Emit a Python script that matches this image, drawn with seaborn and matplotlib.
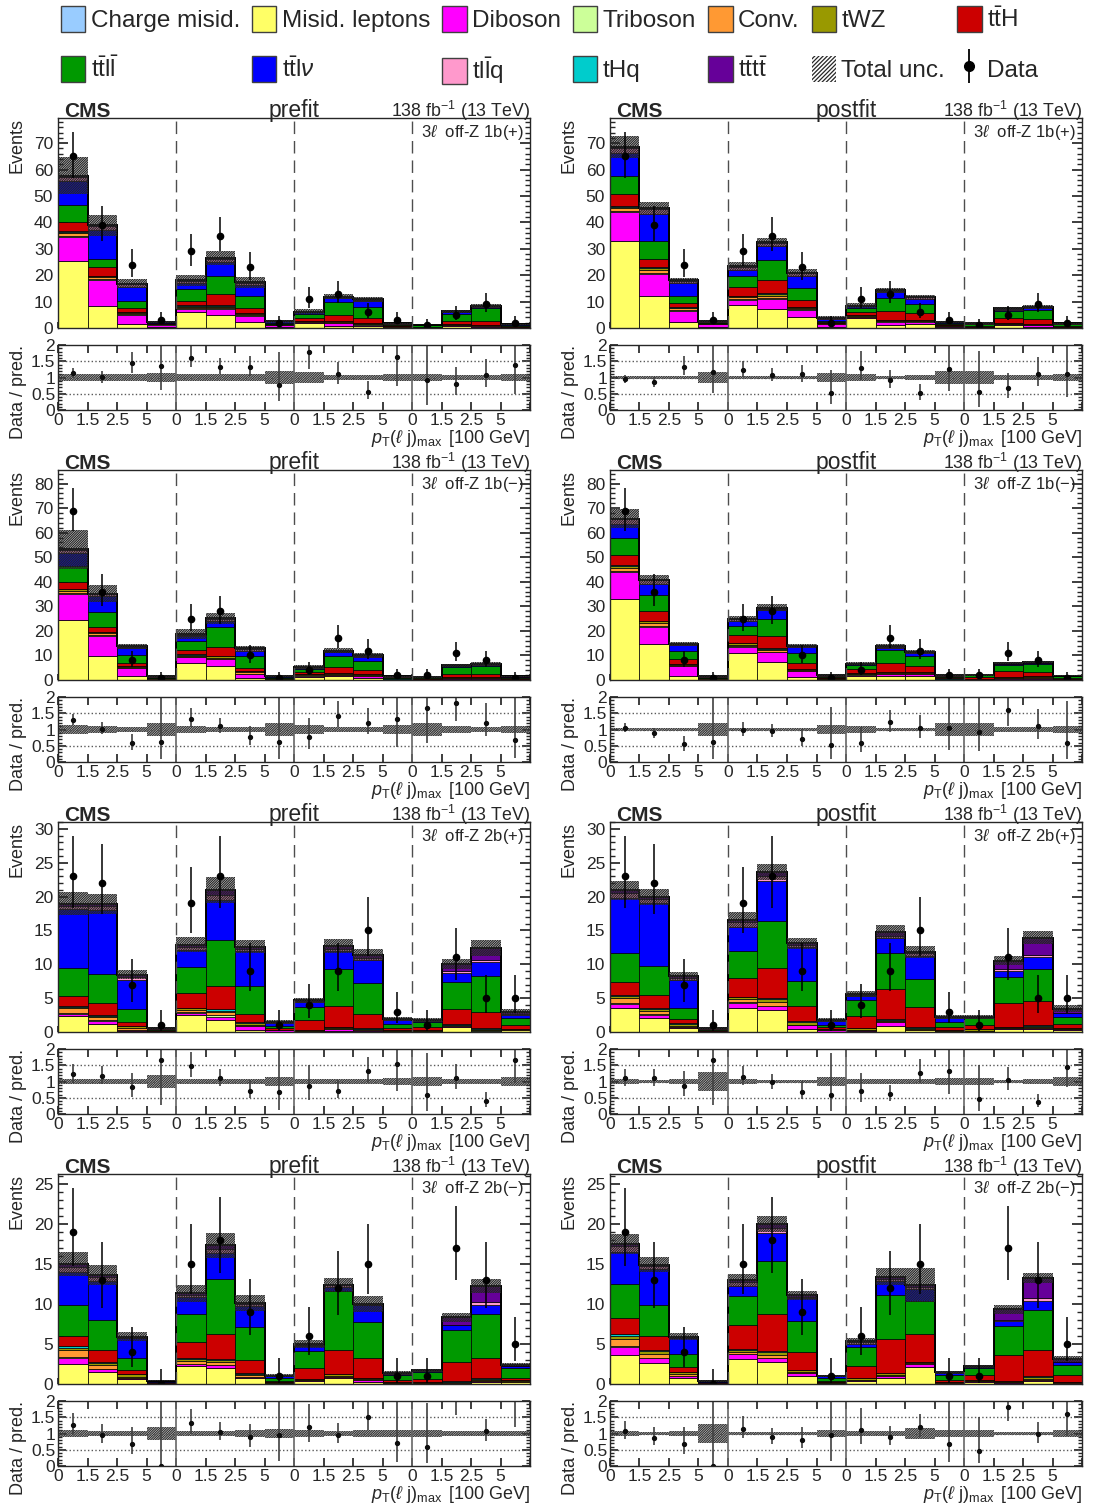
import numpy as np
import pandas as pd
import matplotlib
matplotlib.use("Agg")
import matplotlib.pyplot as plt
import seaborn as sns
from matplotlib.patches import Patch
from matplotlib.lines import Line2D
from matplotlib.legend_handler import HandlerTuple
from matplotlib.ticker import MultipleLocator, AutoMinorLocator

# ---------------- data ----------------
group_tick_labels = ["0", "1.5", "2.5", "5"]
categories = ["1b(+)", "1b(\u2212)", "2b(+)", "2b(\u2212)"]

data_1bp = [65, 39, 24, 3, 29, 35, 23, 2, 11, 13, 6, 3, 1, 5, 9, 2]
data_1bm = [69, 36, 8, 1, 25, 28, 10, 1, 4, 17, 12, 2, 2, 11, 8, 1]
data_2bp = [23, 22, 7, 1, 19, 23, 9, 1, 4, 9, 15, 3, 1, 11, 5, 5]
data_2bm = [19, 13, 4, 0, 15, 18, 9, 1, 6, 12, 15, 1, 1, 17, 13, 5]

zeros16 = [0, 0, 0, 0, 0, 0, 0, 0, 0, 0, 0, 0, 0, 0, 0, 0]

# 1b(+) prefit
pre_1bp_misid = [25.5, 8.3, 1.5, 0.3, 6.0, 5.1, 2.4, 0.3, 1.8, 0.9, 0.9, 0.2, 0.1, 0.9, 0.3, 0.1]
pre_1bp_dib = [9.0, 9.8, 3.5, 1.0, 1.3, 2.2, 2.3, 0.8, 0.3, 0.9, 0.4, 0.3, 0.1, 0.2, 0.5, 0.2]
pre_1bp_tri = [0.4, 0.3, 0.2, 0.05, 0.2, 0.2, 0.2, 0.1, 0.1, 0.1, 0.1, 0.05, 0.0, 0.05, 0.05, 0.0]
pre_1bp_conv = [1.0, 0.8, 0.5, 0.1, 0.6, 0.6, 0.4, 0.1, 0.3, 0.3, 0.2, 0.1, 0.05, 0.1, 0.1, 0.05]
pre_1bp_twz = [0.5, 0.4, 0.3, 0.1, 0.4, 0.4, 0.2, 0.1, 0.2, 0.3, 0.2, 0.1, 0.1, 0.2, 0.3, 0.1]
pre_1bp_thq = [0.3, 0.2, 0.2, 0.0, 0.2, 0.3, 0.2, 0.0, 0.1, 0.1, 0.1, 0.05, 0.0, 0.05, 0.05, 0.0]
pre_1bp_tth = [3.3, 3.2, 1.2, 0.2, 1.7, 4.0, 2.0, 0.3, 1.0, 2.3, 1.8, 0.3, 0.2, 1.0, 1.3, 0.3]
pre_1bp_ttll = [6.4, 3.1, 2.7, 0.2, 4.3, 7.0, 4.4, 0.3, 1.5, 4.8, 4.2, 0.3, 0.4, 2.9, 5.1, 0.5]
pre_1bp_ttlv = [9.3, 11.0, 5.6, 0.2, 2.5, 5.0, 4.0, 0.5, 0.6, 1.8, 2.2, 0.3, 0.1, 0.5, 0.4, 0.1]
pre_1bp_tllq = [1.5, 1.5, 0.8, 0.05, 0.6, 1.2, 1.0, 0.1, 0.2, 0.3, 0.5, 0.1, 0.05, 0.2, 0.1, 0.05]
pre_1bp_tttt = [0.5, 0.3, 0.2, 0.0, 0.2, 0.4, 0.3, 0.0, 0.1, 0.1, 0.2, 0.05, 0.0, 0.2, 0.2, 0.05]
pre_1bp_unc = [0.12, 0.1, 0.1, 0.15, 0.12, 0.1, 0.12, 0.2, 0.17, 0.08, 0.08, 0.12, 0.12, 0.08, 0.07, 0.1]

# 1b(+) postfit
post_1bp_misid = [33.0, 12.3, 2.2, 0.3, 8.8, 7.3, 4.1, 0.3, 3.7, 1.1, 1.5, 0.3, 0.1, 1.1, 0.4, 0.1]
post_1bp_dib = [10.8, 8.3, 4.4, 1.2, 1.9, 3.8, 2.8, 1.3, 0.4, 1.3, 0.9, 0.3, 0.1, 0.3, 0.6, 0.2]
post_1bp_tri = [0.5, 0.3, 0.3, 0.05, 0.3, 0.2, 0.2, 0.1, 0.1, 0.1, 0.1, 0.05, 0.0, 0.05, 0.05, 0.05]
post_1bp_conv = [1.0, 1.2, 0.5, 0.1, 0.6, 0.9, 0.5, 0.1, 0.3, 0.3, 0.2, 0.1, 0.1, 0.1, 0.2, 0.05]
post_1bp_twz = [0.5, 0.6, 0.3, 0.1, 0.4, 0.6, 0.3, 0.1, 0.3, 0.3, 0.2, 0.2, 0.1, 0.3, 0.3, 0.1]
post_1bp_thq = [0.3, 0.3, 0.3, 0.0, 0.3, 0.3, 0.2, 0.05, 0.1, 0.1, 0.1, 0.05, 0.0, 0.05, 0.05, 0.0]
post_1bp_tth = [4.5, 3.2, 1.3, 0.2, 3.2, 5.1, 2.5, 0.4, 1.3, 3.2, 2.5, 0.4, 0.5, 1.7, 1.9, 0.4]
post_1bp_ttll = [7.0, 6.8, 2.8, 0.2, 4.1, 7.4, 4.7, 0.4, 1.5, 5.1, 3.5, 0.4, 0.7, 2.9, 3.2, 0.7]
post_1bp_ttlv = [8.5, 10.1, 4.8, 0.3, 2.3, 5.3, 4.4, 0.8, 0.5, 2.1, 2.0, 0.4, 0.1, 0.5, 0.9, 0.1]
post_1bp_tllq = [2.0, 2.0, 0.8, 0.1, 1.3, 1.2, 1.0, 0.2, 0.2, 0.4, 0.6, 0.1, 0.05, 0.2, 0.2, 0.05]
post_1bp_tttt = [0.5, 0.4, 0.3, 0.0, 0.3, 0.4, 0.3, 0.05, 0.1, 0.2, 0.2, 0.05, 0.05, 0.2, 0.3, 0.05]
post_1bp_unc = [0.06, 0.05, 0.06, 0.18, 0.06, 0.05, 0.06, 0.15, 0.1, 0.06, 0.07, 0.2, 0.2, 0.08, 0.07, 0.12]

# 1b(-) prefit
pre_1bm_misid = [24.5, 9.7, 1.6, 0.2, 7.1, 5.8, 0.9, 0.1, 1.4, 1.6, 0.9, 0.2, 0.1, 0.6, 0.3, 0.1]
pre_1bm_dib = [10.5, 8.2, 3.2, 0.3, 2.1, 2.6, 1.6, 0.3, 0.4, 0.5, 0.7, 0.2, 0.1, 0.2, 0.5, 0.2]
pre_1bm_tri = [0.4, 0.3, 0.2, 0.05, 0.2, 0.1, 0.1, 0.05, 0.05, 0.1, 0.1, 0.0, 0.0, 0.05, 0.05, 0.0]
pre_1bm_conv = [1.0, 0.8, 0.3, 0.1, 0.5, 0.6, 0.5, 0.1, 0.4, 0.3, 0.3, 0.1, 0.05, 0.1, 0.1, 0.05]
pre_1bm_twz = [0.5, 0.5, 0.3, 0.1, 0.4, 0.5, 0.5, 0.1, 0.3, 0.3, 0.3, 0.1, 0.1, 0.3, 0.3, 0.1]
pre_1bm_thq = [0.2, 0.2, 0.2, 0.0, 0.1, 0.1, 0.1, 0.05, 0.05, 0.1, 0.1, 0.05, 0.0, 0.05, 0.05, 0.0]
pre_1bm_tth = [3.0, 2.0, 1.2, 0.2, 1.9, 3.8, 1.3, 0.2, 0.8, 2.5, 1.7, 0.3, 0.3, 1.3, 1.0, 0.3]
pre_1bm_ttll = [6.3, 6.1, 3.3, 0.2, 3.4, 7.9, 4.6, 0.4, 1.2, 4.5, 3.6, 0.25, 0.4, 2.8, 3.5, 0.5]
pre_1bm_ttlv = [5.5, 6.3, 2.6, 0.2, 2.2, 2.6, 2.4, 0.2, 0.4, 1.3, 1.7, 0.15, 0.1, 0.3, 0.4, 0.1]
pre_1bm_tllq = [1.0, 0.8, 0.6, 0.1, 0.6, 0.8, 0.7, 0.1, 0.2, 0.4, 0.4, 0.1, 0.05, 0.2, 0.2, 0.05]
pre_1bm_tttt = [0.3, 0.3, 0.2, 0.2, 0.2, 0.3, 0.2, 0.05, 0.1, 0.3, 0.2, 0.05, 0.0, 0.2, 0.2, 0.05]
pre_1bm_unc = [0.15, 0.1, 0.08, 0.2, 0.1, 0.09, 0.08, 0.2, 0.15, 0.08, 0.08, 0.15, 0.2, 0.1, 0.08, 0.1]

# 1b(-) postfit
post_1bm_misid = [33.0, 14.6, 1.8, 0.2, 11.0, 7.5, 1.3, 0.1, 1.8, 1.8, 1.6, 0.2, 0.1, 0.6, 0.3, 0.1]
post_1bm_dib = [11.0, 7.0, 3.7, 0.4, 2.6, 3.9, 2.2, 0.3, 0.4, 0.7, 0.9, 0.2, 0.1, 0.2, 0.6, 0.2]
post_1bm_tri = [0.5, 0.2, 0.2, 0.0, 0.2, 0.1, 0.1, 0.05, 0.05, 0.1, 0.1, 0.0, 0.0, 0.05, 0.05, 0.0]
post_1bm_conv = [1.3, 1.3, 0.4, 0.1, 0.6, 0.8, 0.4, 0.1, 0.3, 0.3, 0.2, 0.1, 0.1, 0.1, 0.2, 0.05]
post_1bm_twz = [0.8, 0.8, 0.3, 0.1, 0.5, 0.5, 0.3, 0.1, 0.3, 0.3, 0.3, 0.1, 0.2, 0.4, 0.3, 0.1]
post_1bm_thq = [0.3, 0.2, 0.1, 0.0, 0.2, 0.2, 0.1, 0.05, 0.05, 0.1, 0.1, 0.05, 0.0, 0.05, 0.05, 0.0]
post_1bm_tth = [4.0, 3.9, 1.9, 0.2, 3.2, 4.8, 2.6, 0.4, 1.6, 3.8, 2.5, 0.4, 0.7, 2.2, 1.6, 0.4]
post_1bm_ttll = [7.0, 6.5, 3.3, 0.2, 3.7, 7.2, 3.9, 0.5, 1.5, 5.0, 3.9, 0.5, 0.8, 2.6, 3.3, 0.7]
post_1bm_ttlv = [5.5, 4.6, 2.5, 0.2, 2.2, 3.3, 2.4, 0.2, 0.4, 1.1, 1.3, 0.2, 0.1, 0.3, 0.5, 0.1]
post_1bm_tllq = [2.0, 1.5, 0.4, 0.05, 0.6, 0.8, 0.5, 0.1, 0.2, 0.4, 0.4, 0.1, 0.05, 0.2, 0.2, 0.05]
post_1bm_tttt = [0.3, 0.3, 0.2, 0.15, 0.2, 0.3, 0.2, 0.05, 0.1, 0.2, 0.2, 0.05, 0.05, 0.2, 0.2, 0.05]
post_1bm_unc = [0.06, 0.05, 0.05, 0.2, 0.05, 0.05, 0.05, 0.15, 0.1, 0.06, 0.06, 0.2, 0.2, 0.08, 0.07, 0.1]

# 2b(+) prefit
pre_2bp_misid = [2.3, 1.2, 0.2, 0.05, 2.5, 1.75, 0.35, 0.05, 0.1, 0.1, 0.15, 0.05, 0.05, 0.75, 0.1, 0.25]
pre_2bp_dib = [0.4, 0.4, 0.1, 0.0, 0.3, 0.5, 0.5, 0.2, 0.05, 0.3, 0.1, 0.05, 0.05, 0.1, 0.1, 0.1]
pre_2bp_tri = [0.1, 0.1, 0.05, 0.0, 0.1, 0.2, 0.05, 0.0, 0.0, 0.1, 0.05, 0.0, 0.0, 0.05, 0.05, 0.0]
pre_2bp_conv = [0.7, 0.5, 0.2, 0.05, 0.4, 0.5, 0.2, 0.05, 0.05, 0.1, 0.1, 0.05, 0.05, 0.1, 0.1, 0.05]
pre_2bp_twz = [0.2, 0.2, 0.3, 0.1, 0.2, 0.2, 0.3, 0.05, 0.1, 0.1, 0.1, 0.1, 0.1, 0.1, 0.15, 0.1]
pre_2bp_thq = [0.1, 0.1, 0.1, 0.0, 0.1, 0.2, 0.1, 0.0, 0.0, 0.1, 0.1, 0.0, 0.0, 0.05, 0.1, 0.0]
pre_2bp_tth = [1.5, 1.8, 0.6, 0.1, 2.1, 3.4, 1.2, 0.2, 1.5, 3.0, 2.0, 0.3, 0.5, 2.2, 2.3, 0.5]
pre_2bp_ttll = [4.1, 4.2, 1.8, 0.1, 3.9, 6.9, 4.1, 0.4, 1.9, 5.5, 4.6, 0.6, 0.7, 4.0, 5.4, 1.0]
pre_2bp_ttlv = [8.7, 9.5, 4.4, 0.1, 2.5, 5.9, 5.1, 0.4, 0.8, 2.6, 3.4, 0.6, 0.2, 1.3, 2.0, 0.5]
pre_2bp_tllq = [0.5, 0.6, 0.4, 0.05, 0.5, 0.7, 0.4, 0.1, 0.1, 0.3, 0.3, 0.1, 0.05, 0.3, 0.3, 0.1]
pre_2bp_tttt = [0.3, 0.3, 0.3, 0.05, 0.3, 0.7, 0.3, 0.05, 0.1, 0.5, 0.5, 0.1, 0.05, 1.1, 1.8, 0.4]
pre_2bp_unc = [0.09, 0.08, 0.08, 0.2, 0.09, 0.09, 0.08, 0.15, 0.08, 0.08, 0.07, 0.12, 0.15, 0.07, 0.09, 0.15]

# 2b(+) postfit
post_2bp_misid = [3.6, 2.0, 0.6, 0.05, 3.6, 3.2, 0.5, 0.05, 0.2, 0.9, 0.25, 0.05, 0.1, 0.5, 0.5, 0.3]
post_2bp_dib = [0.6, 0.5, 0.15, 0.0, 0.7, 0.6, 0.5, 0.2, 0.1, 0.6, 0.1, 0.05, 0.05, 0.1, 0.1, 0.1]
post_2bp_tri = [0.1, 0.1, 0.0, 0.0, 0.1, 0.1, 0.0, 0.0, 0.0, 0.0, 0.0, 0.0, 0.0, 0.0, 0.0, 0.0]
post_2bp_conv = [0.7, 0.5, 0.2, 0.05, 0.4, 0.6, 0.1, 0.05, 0.05, 0.1, 0.1, 0.05, 0.05, 0.05, 0.1, 0.05]
post_2bp_twz = [0.3, 0.3, 0.3, 0.1, 0.3, 0.3, 0.4, 0.1, 0.2, 0.2, 0.2, 0.1, 0.2, 0.1, 0.2, 0.2]
post_2bp_thq = [0.1, 0.1, 0.05, 0.0, 0.1, 0.2, 0.1, 0.0, 0.0, 0.1, 0.05, 0.0, 0.0, 0.05, 0.1, 0.0]
post_2bp_tth = [2.0, 2.0, 0.6, 0.1, 2.7, 4.5, 2.2, 0.3, 1.8, 4.4, 3.0, 0.5, 0.7, 3.45, 3.6, 0.6]
post_2bp_ttll = [4.3, 4.3, 1.7, 0.1, 4.0, 6.9, 3.8, 0.4, 2.4, 5.3, 4.1, 0.7, 0.9, 3.8, 4.7, 1.0]
post_2bp_ttlv = [8.1, 9.2, 4.1, 0.1, 3.6, 5.9, 4.9, 0.5, 0.5, 2.3, 3.4, 0.6, 0.1, 0.9, 1.8, 0.5]
post_2bp_tllq = [0.7, 0.6, 0.3, 0.05, 0.7, 0.7, 0.3, 0.1, 0.2, 0.3, 0.5, 0.1, 0.05, 0.3, 0.3, 0.1]
post_2bp_tttt = [0.4, 0.3, 0.2, 0.05, 0.4, 0.6, 0.3, 0.05, 0.2, 0.5, 0.1, 0.1, 0.05, 1.3, 2.5, 0.6]
post_2bp_unc = [0.07, 0.06, 0.08, 0.3, 0.07, 0.05, 0.06, 0.15, 0.08, 0.07, 0.07, 0.12, 0.12, 0.06, 0.07, 0.15]

# 2b(-) prefit
pre_2bm_misid = [2.5, 1.55, 0.6, 0.05, 2.2, 2.0, 0.7, 0.05, 0.4, 0.7, 0.3, 0.05, 0.05, 0.1, 0.3, 0.2]
pre_2bm_dib = [0.8, 0.35, 0.1, 0.0, 0.3, 0.4, 0.2, 0.05, 0.05, 0.2, 0.2, 0.05, 0.05, 0.05, 0.1, 0.1]
pre_2bm_tri = [0.1, 0.0, 0.0, 0.0, 0.0, 0.0, 0.0, 0.0, 0.0, 0.0, 0.0, 0.0, 0.0, 0.0, 0.0, 0.0]
pre_2bm_conv = [0.8, 0.5, 0.2, 0.0, 0.4, 0.4, 0.2, 0.05, 0.05, 0.15, 0.1, 0.05, 0.05, 0.05, 0.1, 0.05]
pre_2bm_twz = [0.3, 0.2, 0.3, 0.05, 0.2, 0.2, 0.2, 0.05, 0.1, 0.2, 0.1, 0.05, 0.1, 0.1, 0.1, 0.1]
pre_2bm_thq = [0.2, 0.1, 0.0, 0.0, 0.1, 0.1, 0.05, 0.0, 0.0, 0.0, 0.0, 0.0, 0.0, 0.1, 0.1, 0.0]
pre_2bm_tth = [1.3, 1.5, 0.5, 0.1, 2.0, 3.2, 1.6, 0.2, 1.4, 3.0, 2.5, 0.3, 0.4, 2.3, 2.5, 0.35]
pre_2bm_ttll = [3.9, 3.8, 1.5, 0.1, 3.5, 6.8, 4.1, 0.3, 2.1, 7.4, 4.5, 0.6, 0.9, 4.0, 5.5, 1.25]
pre_2bm_ttlv = [4.1, 4.8, 2.5, 0.05, 2.1, 3.3, 2.7, 0.3, 0.6, 0.5, 2.1, 0.2, 0.1, 0.6, 1.2, 0.2]
pre_2bm_tllq = [0.6, 0.5, 0.1, 0.02, 0.3, 0.5, 0.2, 0.05, 0.2, 0.2, 0.1, 0.05, 0.05, 0.1, 0.3, 0.05]
pre_2bm_tttt = [0.4, 0.3, 0.1, 0.03, 0.2, 0.4, 0.2, 0.0, 0.1, 0.05, 0.1, 0.05, 0.0, 0.9, 2.0, 0.1]
pre_2bm_unc = [0.1, 0.09, 0.09, 0.2, 0.09, 0.09, 0.1, 0.15, 0.1, 0.07, 0.1, 0.12, 0.12, 0.07, 0.07, 0.08]

# 2b(-) postfit
post_2bm_misid = [3.6, 2.6, 0.8, 0.05, 3.15, 2.8, 1.05, 0.05, 0.4, 0.75, 2.1, 0.1, 0.3, 0.15, 0.4, 0.1]
post_2bm_dib = [1.0, 0.6, 0.2, 0.0, 0.55, 0.4, 0.3, 0.05, 0.1, 0.3, 0.4, 0.05, 0.05, 0.05, 0.1, 0.05]
post_2bm_tri = [0.1, 0.0, 0.0, 0.0, 0.0, 0.0, 0.0, 0.0, 0.0, 0.0, 0.0, 0.0, 0.0, 0.0, 0.0, 0.0]
post_2bm_conv = [0.9, 0.6, 0.2, 0.0, 0.3, 0.4, 0.15, 0.05, 0.05, 0.1, 0.1, 0.05, 0.05, 0.05, 0.1, 0.05]
post_2bm_twz = [0.4, 0.3, 0.3, 0.05, 0.3, 0.4, 0.2, 0.05, 0.2, 0.2, 0.2, 0.05, 0.1, 0.1, 0.3, 0.1]
post_2bm_thq = [0.2, 0.1, 0.0, 0.0, 0.1, 0.1, 0.0, 0.0, 0.0, 0.0, 0.0, 0.0, 0.0, 0.05, 0.1, 0.0]
post_2bm_tth = [2.0, 1.8, 0.6, 0.1, 3.0, 4.6, 2.3, 0.2, 1.5, 4.25, 3.4, 0.3, 0.6, 3.2, 3.2, 0.8]
post_2bm_ttll = [4.3, 3.8, 1.6, 0.1, 3.6, 6.7, 3.8, 0.3, 2.4, 5.45, 4.1, 0.6, 0.9, 3.6, 5.0, 1.3]
post_2bm_ttlv = [4.0, 4.5, 2.0, 0.05, 1.2, 3.4, 2.9, 0.3, 0.4, 1.75, 1.6, 0.2, 0.1, 0.6, 1.2, 0.35]
post_2bm_tllq = [0.7, 0.4, 0.1, 0.02, 0.5, 0.7, 0.2, 0.05, 0.2, 0.3, 0.2, 0.05, 0.05, 0.2, 0.3, 0.05]
post_2bm_tttt = [0.3, 0.2, 0.1, 0.03, 0.3, 0.5, 0.15, 0.0, 0.1, 0.3, 0.3, 0.05, 0.05, 1.3, 2.5, 0.3]
post_2bm_unc = [0.07, 0.06, 0.08, 0.3, 0.06, 0.05, 0.05, 0.12, 0.07, 0.08, 0.17, 0.1, 0.1, 0.06, 0.05, 0.12]

# ---------------- style ----------------
sns.set_theme(style="ticks")
plt.rcParams["font.family"] = ["Liberation Sans", "DejaVu Sans"]
plt.rcParams["mathtext.fontset"] = "custom"
plt.rcParams["mathtext.rm"] = "Liberation Sans"
plt.rcParams["mathtext.it"] = "Liberation Sans:italic"
plt.rcParams["mathtext.bf"] = "Liberation Sans:bold"
plt.rcParams["hatch.linewidth"] = 0.9
plt.rcParams["axes.linewidth"] = 1.0

HATCH = "/" * 14

PROC_NAMES = {
    "chm": "Charge misid.", "misid": "Misid. leptons", "dib": "Diboson",
    "tri": "Triboson", "conv": "Conv.", "twz": "tWZ",
    "tth": r"$\mathrm{t\bar{t}H}$", "ttll": r"$\mathrm{t\bar{t}l\bar{l}}$",
    "ttlv": r"$\mathrm{t\bar{t}l}\nu$", "tllq": r"$\mathrm{tl\bar{l}q}$",
    "thq": "tHq", "tttt": r"$\mathrm{t\bar{t}t\bar{t}}$",
}
COLORS = {
    "chm": "#99ccff", "misid": "#ffff66", "dib": "#ff00ff", "tri": "#ccff99",
    "conv": "#ff9933", "twz": "#999900", "tth": "#cc0000", "ttll": "#009900",
    "ttlv": "#0000ff", "tllq": "#ff99cc", "thq": "#00cccc", "tttt": "#660099",
}
# seaborn stacks the first hue level on top
STACK_TOP_DOWN = ["tttt", "tllq", "ttlv", "ttll", "tth", "thq", "twz", "conv",
                  "tri", "dib", "chm", "misid"]

panels = {
    (0, 0): dict(data=data_1bp, unc=pre_1bp_unc, cat=categories[0], fit="prefit",
                 comps=dict(misid=pre_1bp_misid, chm=zeros16, dib=pre_1bp_dib, tri=pre_1bp_tri,
                            conv=pre_1bp_conv, twz=pre_1bp_twz, thq=pre_1bp_thq, tth=pre_1bp_tth,
                            ttll=pre_1bp_ttll, ttlv=pre_1bp_ttlv, tllq=pre_1bp_tllq, tttt=pre_1bp_tttt)),
    (0, 1): dict(data=data_1bp, unc=post_1bp_unc, cat=categories[0], fit="postfit",
                 comps=dict(misid=post_1bp_misid, chm=zeros16, dib=post_1bp_dib, tri=post_1bp_tri,
                            conv=post_1bp_conv, twz=post_1bp_twz, thq=post_1bp_thq, tth=post_1bp_tth,
                            ttll=post_1bp_ttll, ttlv=post_1bp_ttlv, tllq=post_1bp_tllq, tttt=post_1bp_tttt)),
    (1, 0): dict(data=data_1bm, unc=pre_1bm_unc, cat=categories[1], fit="prefit",
                 comps=dict(misid=pre_1bm_misid, chm=zeros16, dib=pre_1bm_dib, tri=pre_1bm_tri,
                            conv=pre_1bm_conv, twz=pre_1bm_twz, thq=pre_1bm_thq, tth=pre_1bm_tth,
                            ttll=pre_1bm_ttll, ttlv=pre_1bm_ttlv, tllq=pre_1bm_tllq, tttt=pre_1bm_tttt)),
    (1, 1): dict(data=data_1bm, unc=post_1bm_unc, cat=categories[1], fit="postfit",
                 comps=dict(misid=post_1bm_misid, chm=zeros16, dib=post_1bm_dib, tri=post_1bm_tri,
                            conv=post_1bm_conv, twz=post_1bm_twz, thq=post_1bm_thq, tth=post_1bm_tth,
                            ttll=post_1bm_ttll, ttlv=post_1bm_ttlv, tllq=post_1bm_tllq, tttt=post_1bm_tttt)),
    (2, 0): dict(data=data_2bp, unc=pre_2bp_unc, cat=categories[2], fit="prefit",
                 comps=dict(misid=pre_2bp_misid, chm=zeros16, dib=pre_2bp_dib, tri=pre_2bp_tri,
                            conv=pre_2bp_conv, twz=pre_2bp_twz, thq=pre_2bp_thq, tth=pre_2bp_tth,
                            ttll=pre_2bp_ttll, ttlv=pre_2bp_ttlv, tllq=pre_2bp_tllq, tttt=pre_2bp_tttt)),
    (2, 1): dict(data=data_2bp, unc=post_2bp_unc, cat=categories[2], fit="postfit",
                 comps=dict(misid=post_2bp_misid, chm=zeros16, dib=post_2bp_dib, tri=post_2bp_tri,
                            conv=post_2bp_conv, twz=post_2bp_twz, thq=post_2bp_thq, tth=post_2bp_tth,
                            ttll=post_2bp_ttll, ttlv=post_2bp_ttlv, tllq=post_2bp_tllq, tttt=post_2bp_tttt)),
    (3, 0): dict(data=data_2bm, unc=pre_2bm_unc, cat=categories[3], fit="prefit",
                 comps=dict(misid=pre_2bm_misid, chm=zeros16, dib=pre_2bm_dib, tri=pre_2bm_tri,
                            conv=pre_2bm_conv, twz=pre_2bm_twz, thq=pre_2bm_thq, tth=pre_2bm_tth,
                            ttll=pre_2bm_ttll, ttlv=pre_2bm_ttlv, tllq=pre_2bm_tllq, tttt=pre_2bm_tttt)),
    (3, 1): dict(data=data_2bm, unc=post_2bm_unc, cat=categories[3], fit="postfit",
                 comps=dict(misid=post_2bm_misid, chm=zeros16, dib=post_2bm_dib, tri=post_2bm_tri,
                            conv=post_2bm_conv, twz=post_2bm_twz, thq=post_2bm_thq, tth=post_2bm_tth,
                            ttll=post_2bm_ttll, ttlv=post_2bm_ttlv, tllq=post_2bm_tllq, tttt=post_2bm_tttt)),
}

ROW_YMAX = [79.5, 85.5, 31.0, 26.2]
ROW_MAJOR = [10, 10, 5, 5]


def chi2q(k, z):
    k = np.asarray(k, float)
    return k * (1 - 2 / (9 * k) + z * np.sqrt(2 / (9 * k))) ** 3


def poisson_interval(n):
    n = np.asarray(n, float)
    kk = np.where(n > 0, 2 * n, 1.0)
    lo = np.where(n > 0, 0.5 * chi2q(kk, -1.0), 0.0)
    hi = 0.5 * chi2q(2 * n + 2, 1.0)
    return n - lo, hi - n


W, H = 1094, 1504
fig = plt.figure(figsize=(W / 100, H / 100), dpi=100)

edges = np.arange(17)
centers = edges[:-1] + 0.5
xlab = r"$p_{\mathrm{T}}(\ell\ \mathrm{j})_{\mathrm{max}}\,$ [100 GeV]"

for (r, c), p in panels.items():
    left = 58 if c == 0 else 610
    top = 118 + 352 * r
    ax = fig.add_axes([left / W, 1 - (top + 210) / H, 472 / W, 210 / H])
    rtop = top + 227
    rax = fig.add_axes([left / W, 1 - (rtop + 65) / H, 472 / W, 65 / H])

    rows = []
    for proc in STACK_TOP_DOWN:
        for i, v in enumerate(p["comps"][proc]):
            rows.append((float(centers[i]), float(v), proc))
    df = pd.DataFrame(rows, columns=["bin", "events", "process"])
    sns.histplot(data=df, x="bin", weights="events", hue="process",
                 hue_order=STACK_TOP_DOWN, palette=COLORS, multiple="stack",
                 binwidth=1, binrange=(0, 16), edgecolor="black", linewidth=0.5,
                 alpha=1, legend=False, ax=ax)

    total = np.zeros(16)
    for proc in STACK_TOP_DOWN:
        total += np.asarray(p["comps"][proc], float)
    unc = total * np.asarray(p["unc"])
    ax.stairs(total, edges, color="black", linewidth=1.4, baseline=None)
    ax.bar(centers, 2 * unc, bottom=total - unc, width=1.0, facecolor="none",
           edgecolor="0.15", linewidth=0, hatch=HATCH)

    data = np.asarray(p["data"], float)
    dlo, dhi = poisson_interval(data)
    ax.errorbar(centers, data, yerr=[dlo, dhi], fmt="o", color="black",
                ms=4.5, elinewidth=1.1, capsize=0)

    for xv in (4, 8, 12):
        ax.axvline(xv, color="0.3", linestyle=(0, (9, 5)), linewidth=1.0)

    ax.set_xlim(0, 16)
    ax.set_ylim(0, ROW_YMAX[r])
    ax.set_xticks(edges)
    ax.set_xticklabels([])
    ax.yaxis.set_major_locator(MultipleLocator(ROW_MAJOR[r]))
    ax.yaxis.set_minor_locator(AutoMinorLocator(5))
    ax.tick_params(axis="both", which="both", direction="in", right=True, top=False)
    ax.tick_params(axis="y", which="major", length=7, labelsize=12.5)
    ax.tick_params(axis="x", which="major", length=4)
    ax.tick_params(axis="y", which="minor", length=3.5)
    ax.set_xlabel("")
    ax.set_ylabel("Events", loc="top", fontsize=13, labelpad=6)

    ax.text(0.013, 1.006, "CMS", transform=ax.transAxes, fontsize=15,
            fontweight="bold", ha="left", va="baseline")
    ax.text(0.5, 1.006, p["fit"], transform=ax.transAxes, fontsize=16.5,
            ha="center", va="baseline")
    ax.text(1.0, 1.006, r"138 fb$^{-1}$ (13 TeV)", transform=ax.transAxes,
            fontsize=12.8, ha="right", va="baseline")
    ax.text(0.988, 0.975, r"3$\ell$  off-Z " + p["cat"], transform=ax.transAxes,
            fontsize=12, ha="right", va="top")

    # ratio panel
    rel = np.asarray(p["unc"])
    rax.bar(centers, 2 * rel, bottom=1 - rel, width=1.0, facecolor="none",
            edgecolor="0.2", linewidth=0, hatch=HATCH)
    for yv in (0.5, 1.0, 1.5):
        rax.axhline(yv, color="0.35", linestyle=":", linewidth=1.0)
    for xv in (4, 8, 12):
        rax.axvline(xv, color="0.4", linewidth=1.2)
    ratio = data / total
    rax.errorbar(centers, ratio, yerr=[dlo / total, dhi / total], fmt="o",
                 color="0.05", ecolor="0.25", ms=2.8, elinewidth=1.2, capsize=0)
    rax.set_xlim(0, 16)
    rax.set_ylim(0, 2)
    rax.set_yticks([0, 0.5, 1, 1.5, 2])
    rax.set_yticklabels(["0", "0.5", "1", "1.5", "2"])
    rax.yaxis.set_minor_locator(AutoMinorLocator(5))
    rax.set_xticks(edges)
    rax.set_xticklabels(group_tick_labels * 4 + [""])
    rax.tick_params(axis="both", which="both", direction="in", top=True, right=True)
    rax.tick_params(axis="both", which="major", length=6, labelsize=12.5, pad=2)
    rax.tick_params(axis="y", which="minor", length=3)
    rax.set_ylabel("Data / pred.", loc="top", fontsize=13, labelpad=3)
    rax.set_xlabel(xlab, loc="right", fontsize=13, labelpad=0)

# ---------------- legend ----------------
def box(key):
    return Patch(facecolor=COLORS[key], edgecolor="0.25", linewidth=1.0)

unc_handle = Patch(facecolor="none", edgecolor="0.15", linewidth=0, hatch="/" * 8)
data_handle = (Line2D([0], [0], color="black", marker="|", markersize=24,
                      linestyle="none", markeredgewidth=1.3),
               Line2D([0], [0], color="black", marker="o", markersize=7,
                      linestyle="none"))
order = [("chm", "ttll"), ("misid", "ttlv"), ("dib", "tllq"), ("tri", "thq"),
         ("conv", "tttt"), ("twz", "UNC"), ("tth", "DATA")]
handles, labels = [], []
for a, b in order:
    for k in (a, b):
        if k == "UNC":
            handles.append(unc_handle); labels.append("Total unc.")
        elif k == "DATA":
            handles.append(data_handle); labels.append("Data")
        else:
            handles.append(box(k)); labels.append(PROC_NAMES[k])

fig.legend(handles, labels, ncol=7, loc="upper left",
           bbox_to_anchor=(61 / W, 1 - 6 / H), frameon=False, fontsize=17.5,
           handlelength=1.0, handleheight=1.25, handletextpad=0.22,
           columnspacing=0.5, labelspacing=0.98, borderaxespad=0, borderpad=0,
           handler_map={tuple: HandlerTuple(ndivide=1)})

fig.savefig("out.png", dpi=100)
